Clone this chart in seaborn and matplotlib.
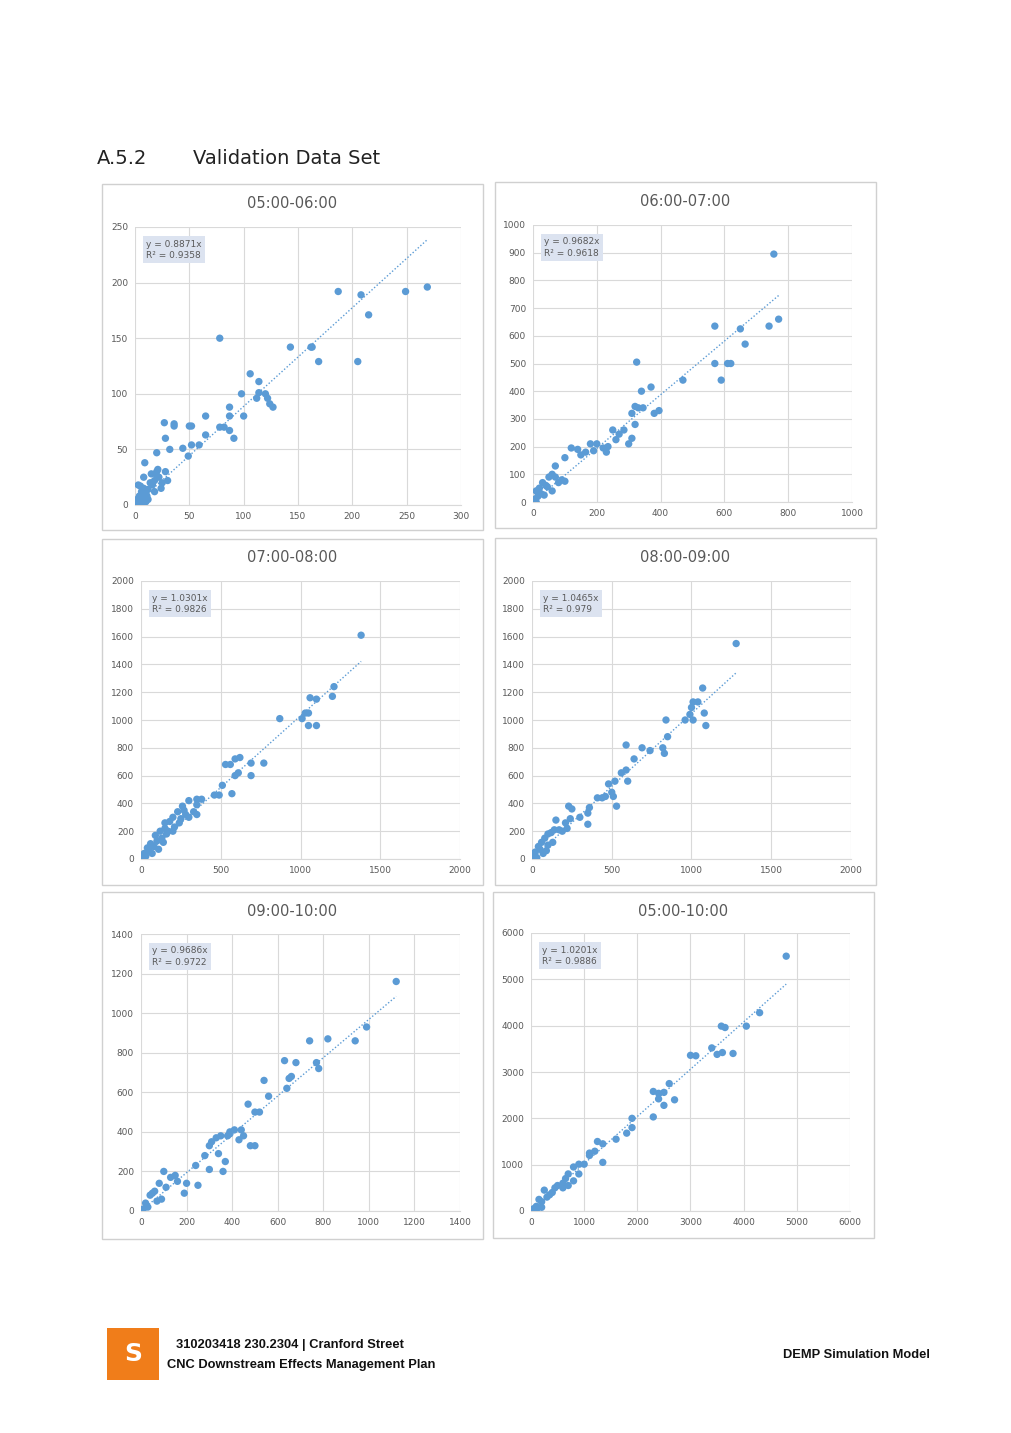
import matplotlib
matplotlib.use("Agg")
import matplotlib.pyplot as plt
import seaborn as sns
import pandas as pd
import numpy as np
from matplotlib.patches import Rectangle

titles = ["05:00-06:00", "06:00-07:00", "07:00-08:00", "08:00-09:00", "09:00-10:00", "05:00-10:00"]
slopes = [0.8871, 0.9682, 1.0301, 1.0465, 0.9686, 1.0201]
r2 = ["0.9358", "0.9618", "0.9826", "0.979", "0.9722", "0.9886"]
xmax = [300, 1000, 2000, 2000, 1400, 6000]
ymax = [250, 1000, 2000, 2000, 1400, 6000]
xstep = [50, 200, 500, 500, 200, 1000]
ystep = [50, 100, 200, 200, 200, 1000]

p1 = [(187,192),(208,189),(249,192),(269,196),(215,171),(78,150),(143,142),(162,142),(163,142),(169,129),(205,129),(106,118),(114,111),(98,100),(114,101),(120,100),(112,96),(122,96),(124,91),(127,88),(87,88),(65,80),(87,80),(100,80),(27,74),(36,73),(36,71),(50,71),(52,71),(78,70),(82,70),(87,67),(65,63),(28,60),(91,60),(59,54),(52,54),(32,50),(44,51),(49,44),(20,47),(9,38),(8,25),
      (0,0),(1,2),(2,5),(3,1),(4,8),(5,3),(6,12),(7,6),(8,15),(10,10),(12,5),(14,20),(15,28),(16,18),(18,22),(20,30),(22,25),(24,15),(25,20),(28,30),(30,22),(3,18),(5,17),(10,3),(12,14),(2,0),(4,2),(6,0),(11,8),(18,12),(21,32),(19,28)]
p2 = [(755,895),(570,635),(650,625),(740,635),(770,660),(665,570),(325,505),(570,500),(610,500),(620,500),(590,440),(470,440),(370,415),(340,400),(320,345),(330,340),(345,340),(310,320),(380,320),(395,330),(235,200),(180,210),(200,210),(220,195),(250,260),(270,245),(285,260),(260,225),(320,280),(310,230),(165,180),(150,170),(190,185),(120,195),(140,190),(100,160),(90,80),(70,130),(60,100),(50,90),(40,60),(30,70),(20,50),(10,40),(15,20),(5,10),(25,30),(60,40),(80,70),(45,55),(35,25),(0,5),(10,0),(70,90),(100,75),(300,210),(230,180)]
p3 = [(1380,1610),(870,1010),(1010,1010),(1030,1050),(1050,1050),(1050,960),(1100,960),(1060,1160),(1100,1150),(1200,1170),(1210,1240),(530,680),(560,680),(590,720),(620,730),(610,620),(590,600),(690,690),(690,600),(770,690),(510,530),(490,460),(460,460),(570,470),(380,430),(350,430),(300,420),(350,390),(260,380),(230,340),(280,320),(330,340),(350,320),(200,300),(240,260),(180,270),(150,220),(120,200),(90,170),(100,130),(60,110),(40,80),(20,40),(10,10),(50,60),(80,90),(130,150),(160,180),(200,200),(30,20),(70,40),(110,70),(140,120),(170,200),(210,230),(250,290),(270,350),(300,300),(150,260)]
p4 = [(1280,1550),(1070,1230),(1040,1130),(1010,1130),(1000,1090),(960,1000),(1010,1000),(1080,1050),(1090,960),(990,1040),(840,1000),(850,880),(820,800),(830,760),(740,780),(590,820),(690,800),(640,720),(590,640),(560,620),(600,560),(520,560),(480,540),(440,440),(460,450),(500,480),(530,380),(510,450),(410,440),(360,370),(350,330),(300,300),(350,250),(250,360),(230,380),(240,290),(210,260),(140,210),(120,190),(170,210),(150,280),(100,180),(80,150),(60,120),(40,90),(20,50),(10,20),(70,40),(100,100),(130,120),(190,200),(220,220),(30,10),(50,70),(90,60)]
p5 = [(1120,1160),(990,930),(940,860),(820,870),(740,860),(770,750),(780,720),(630,760),(680,750),(660,680),(650,670),(640,620),(540,660),(560,580),(520,500),(500,500),(470,540),(390,390),(380,380),(350,380),(330,370),(310,350),(300,330),(340,290),(280,280),(370,250),(390,400),(410,410),(440,410),(450,380),(430,360),(480,330),(500,330),(360,200),(300,210),(240,230),(250,130),(200,140),(190,90),(150,180),(130,170),(100,200),(80,140),(60,100),(40,80),(20,40),(10,10),(70,50),(110,120),(160,150),(90,60),(30,20),(50,90)]
p6 = [(4800,5500),(3580,3990),(3650,3960),(4050,3990),(4300,4280),(3000,3360),(3100,3350),(3500,3380),(3600,3420),(3800,3400),(3400,3520),(2600,2750),(2500,2560),(2400,2540),(2300,2580),(2400,2420),(2700,2400),(2500,2280),(2300,2030),(1900,2000),(1900,1800),(1800,1680),(1600,1550),(1250,1500),(1350,1450),(1200,1290),(1100,1250),(1350,1050),(900,1010),(1000,1010),(800,950),(700,800),(600,600),(500,550),(400,400),(300,300),(200,200),(100,100),(50,50),(150,250),(250,450),(350,350),(450,500),(650,700),(900,800),(1100,1200),(800,650),(600,500),(700,550),(200,80),(100,20)]
points = [p1, p2, p3, p4, p5, p6]

W, H = 1012, 1433
fig = plt.figure(figsize=(W/100, H/100), dpi=100)
sns.set_style("white")

boxes = [(102,184,483,530),(495,182,876,528),(102,539,483,885),(495,538,876,885),(102,892,483,1239),(493,892,874,1238)]
axes_px = [(135,227,461,505),(533,225,852,502),(141,581,460,859),(532,581,851,859),(141,934,460,1211),(531,933,850,1211)]

def fx(x): return x / W
def fy(y): return 1 - y / H

for i in range(6):
    bx0, by0, bx1, by1 = boxes[i]
    fig.patches.append(Rectangle((fx(bx0), fy(by1)), (bx1-bx0)/W, (by1-by0)/H,
                                 transform=fig.transFigure, fill=False, ec="#D0D0D0", lw=1))
    fig.text(fx((bx0+bx1)/2), fy(by0+19), titles[i], ha="center", va="center", fontsize=10.5, color="#595959")
    x0, y0, x1, y1 = axes_px[i]
    ax = fig.add_axes([fx(x0), fy(y1), (x1-x0)/W, (y1-y0)/H])
    df = pd.DataFrame(points[i], columns=["x", "y"])
    xs = np.array([0, df.x.max()])
    ax.plot(xs, slopes[i]*xs, ls=(0, (1, 1.5)), color="#5B9BD5", lw=1, zorder=2)
    sns.scatterplot(data=df, x="x", y="y", ax=ax, color="#5B9BD5", s=28, edgecolor="none", zorder=3)
    ax.set_xlim(0, xmax[i]); ax.set_ylim(0, ymax[i])
    ax.set_xticks(np.arange(0, xmax[i]+1, xstep[i])); ax.set_yticks(np.arange(0, ymax[i]+1, ystep[i]))
    ax.grid(True, color="#D9D9D9", lw=0.8); ax.set_axisbelow(True)
    for s in ax.spines.values():
        s.set_visible(False)
    ax.spines["bottom"].set_visible(True); ax.spines["bottom"].set_color("#D9D9D9")
    ax.tick_params(length=0, labelsize=6.5, labelcolor="#595959", pad=5)
    ax.set_xlabel(""); ax.set_ylabel("")
    ax.text(0.035, 0.955, f"y = {slopes[i]:.4f}x\nR² = {r2[i]}", transform=ax.transAxes, va="top", ha="left",
            fontsize=6.5, color="#595959", linespacing=1.4,
            bbox=dict(boxstyle="square,pad=0.35", fc="#DCE3F0", ec="none"))

fig.text(fx(97), fy(158), "A.5.2", fontsize=14, color="#222222", va="center")
fig.text(fx(193), fy(158), "Validation Data Set", fontsize=14, color="#222222", va="center")

fig.patches.append(Rectangle((fx(107), fy(1380)), 52/W, 52/H, transform=fig.transFigure, fc="#F07D1A", ec="none"))
fig.text(fx(133), fy(1354), "S", fontsize=18, color="white", ha="center", va="center", fontweight="bold")
foot = dict(fontsize=9.3, fontweight="bold", family="Liberation Sans", va="center", color="#111111")
fig.text(fx(176), fy(1345), "310203418 230.2304 | Cranford Street", **foot)
fig.text(fx(167), fy(1365), "CNC Downstream Effects Management Plan", **foot)
fig.text(fx(930), fy(1355), "DEMP Simulation Model", ha="right", **foot)

fig.savefig("out.png", dpi=100)
